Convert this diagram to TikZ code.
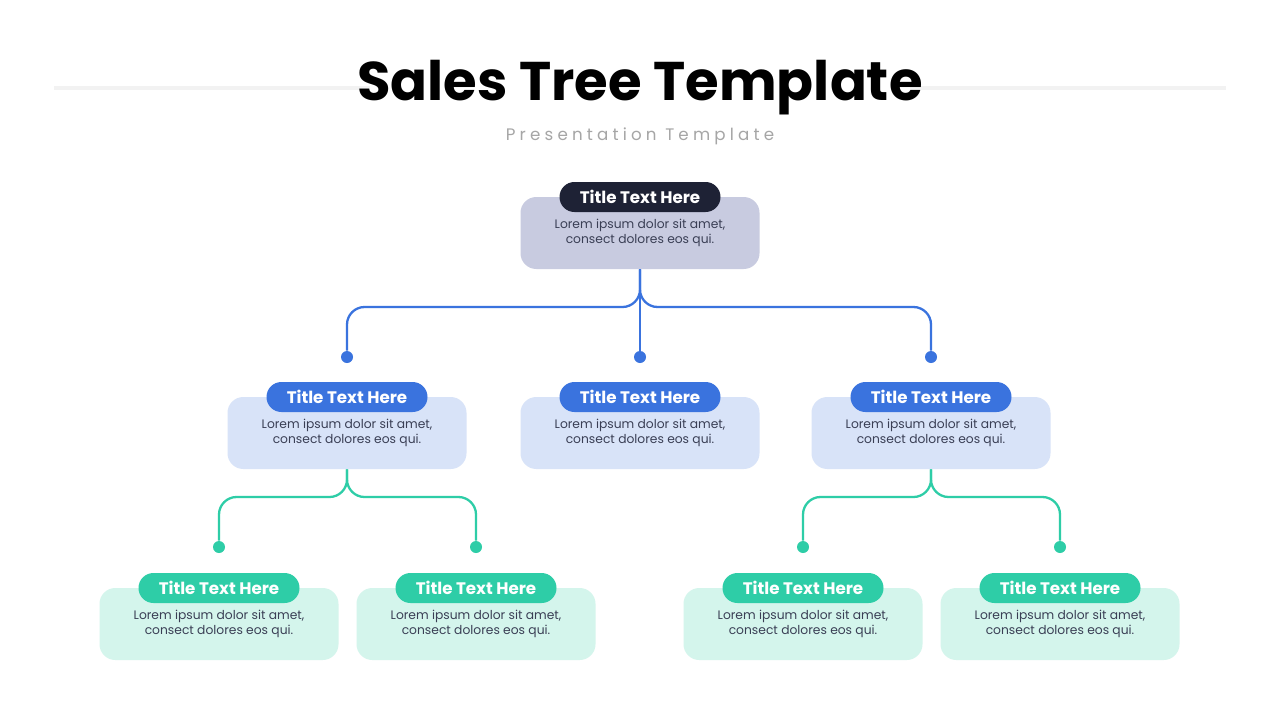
\documentclass[tikz,border=0pt]{standalone}
\usepackage{fontspec}
\setmainfont{Poppins}
\usetikzlibrary{positioning}
\definecolor{navy}{HTML}{1E2235}
\definecolor{lilac}{HTML}{C8CBE0}
\definecolor{bluepill}{HTML}{3A73DE}
\definecolor{bluebox}{HTML}{D8E3F8}
\definecolor{tealpill}{HTML}{2ECDA7}
\definecolor{tealbox}{HTML}{D4F5EC}
\definecolor{bodytxt}{HTML}{3A3F55}
\tikzset{
  card/.style={rounded corners=9pt,minimum width=239*0.02cm,minimum height=72*0.02cm,
    inner sep=0pt,align=center,font=\fontsize{7}{9}\selectfont,text=bodytxt},
  pill/.style={rounded corners=8.5pt,minimum width=161*0.02cm,minimum height=30*0.02cm,
    inner sep=0pt,text=white,font=\fontsize{9.5}{11}\selectfont\bfseries},
  link/.style={line width=1.3pt,rounded corners=10pt},
  dot/.style={circle,inner sep=0pt,minimum size=12*0.02cm}
}
% one card with its title pill
\newcommand\treecard[5]{%
  \node[card,fill=#5] (#1) at (#2,#3) {Lorem ipsum dolor sit amet,\\consect dolores eos qui.};
  \node[pill,fill=#4] (#1t) at (#2,#3-36) {Title Text Here};
}
\begin{document}
\begin{tikzpicture}[x=0.02cm,y=-0.02cm]
\useasboundingbox[fill=white] (0,0) rectangle (1280,720);
\draw[line width=2.3pt,gray!10] (54,88) -- (370,88) (910,88) -- (1226,88);
\node[font=\fontsize{31}{36}\selectfont\bfseries] (title) at (640,88) {Sales Tree Template};
\node[font=\fontsize{9.5}{11}\selectfont,text=gray!70,below=0pt of title] (sub)
  {\addfontfeature{LetterSpace=25}Presentation Template};
\treecard{top}{640}{233}{navy}{lilac}
\treecard{mid1}{347}{433}{bluepill}{bluebox}
\treecard{mid2}{640}{433}{bluepill}{bluebox}
\treecard{mid3}{931}{433}{bluepill}{bluebox}
\treecard{low1}{219}{624}{tealpill}{tealbox}
\treecard{low2}{476}{624}{tealpill}{tealbox}
\treecard{low3}{803}{624}{tealpill}{tealbox}
\treecard{low4}{1060}{624}{tealpill}{tealbox}
% blue connectors
\foreach \n/\x in {d1/347,d2/640,d3/931}
  \node[dot,fill=bluepill] (\n) at (\x,357) {};
\draw[link,bluepill] (top.south) -- (640,307) -| (d1);
\draw[link,bluepill] (top.south) -- (640,307) -| (d3);
\draw[link,bluepill] (top.south) -- (d2);
% teal connectors
\foreach \n/\x in {e1/219,e2/476,e3/803,e4/1060}
  \node[dot,fill=tealpill] (\n) at (\x,547) {};
\draw[link,tealpill] (mid1.south) -- (347,497) -| (e1);
\draw[link,tealpill] (mid1.south) -- (347,497) -| (e2);
\draw[link,tealpill] (mid3.south) -- (931,497) -| (e3);
\draw[link,tealpill] (mid3.south) -- (931,497) -| (e4);
\end{tikzpicture}
\end{document}
